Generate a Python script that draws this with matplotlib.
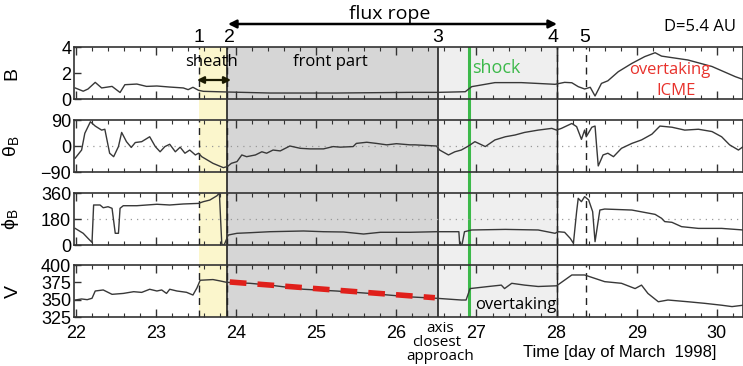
import numpy as np
import matplotlib.pyplot as plt
from matplotlib.ticker import MultipleLocator

# magnetic field magnitude B
b_day = [21.99, 22.09, 22.15, 22.24, 22.32, 22.45, 22.55, 22.61, 22.76, 22.88, 23.01, 23.17,
         23.34, 23.40, 23.46, 23.53, 23.59, 23.88, 24.42, 25.25, 26.17, 26.52, 26.86, 26.94,
         27.23, 27.56, 27.98, 28.10, 28.19, 28.27, 28.35, 28.42, 28.48, 28.56, 28.64, 28.77,
         28.94, 29.10, 29.23, 29.31, 29.64, 29.94, 30.23, 30.33]
b_val = [0.85, 0.6, 0.77, 1.28, 0.85, 0.97, 0.5, 1.1, 1.15, 0.97, 1.0, 0.92,
         0.85, 0.72, 0.9, 0.67, 0.59, 0.54, 0.46, 0.46, 0.51, 0.51, 0.56, 0.95,
         1.26, 1.26, 1.13, 1.28, 1.25, 0.95, 0.77, 0.9, 0.23, 1.2, 1.4, 2.1,
         2.74, 3.26, 3.56, 3.3, 3.0, 2.5, 1.72, 1.5]

# theta_B
th_day = [21.99, 22.07, 22.11, 22.18, 22.24, 22.32, 22.36, 22.42, 22.47, 22.53, 22.57, 22.63,
          22.69, 22.74, 22.82, 22.92, 22.99, 23.05, 23.11, 23.17, 23.24, 23.30, 23.36, 23.42,
          23.49, 23.53, 23.57, 23.71, 23.84, 23.89, 23.94, 24.01, 24.07, 24.13, 24.24, 24.32,
          24.38, 24.46, 24.55, 24.67, 24.80, 24.92, 25.09, 25.21, 25.30, 25.46, 25.50, 25.63,
          25.75, 25.88, 26.00, 26.17, 26.23, 26.50, 26.54, 26.65, 26.73, 26.81, 26.90, 26.98,
          27.11, 27.23, 27.36, 27.48, 27.60, 27.77, 27.94, 28.00, 28.06, 28.19, 28.25, 28.29,
          28.31, 28.35, 28.37, 28.44, 28.48, 28.50, 28.52, 28.58, 28.64, 28.71, 28.81, 28.94,
          29.06, 29.19, 29.29, 29.44, 29.60, 29.77, 29.94, 30.06, 30.16, 30.27, 30.33]
th_val = [-42, -14, 44, 84, 69, 55, 58, -25, -37, -2, 47, 15,
          -5, 12, 15, 32, -2, -20, -2, 6, -20, -4, -25, -14,
          -31, -25, -37, -60, -75, -71, -60, -54, -31, -37, -31, -20,
          -25, -14, -17, 0, -8, -10, -10, -2, -4, -2, 9, 13,
          9, 4, 8, 4, 4, 0, -14, -31, -20, -14, 0, 15,
          -2, 21, 32, 38, 47, 55, 61, 55, 61, 78, 67, 38,
          23, 55, 32, 65, 69, -2, -69, -31, -25, -37, -8, 9,
          21, 41, 69, 65, 55, 58, 50, 32, 4, -14, -2]

# phi_B
ph_day = [21.99, 22.09, 22.15, 22.20, 22.22, 22.30, 22.34, 22.40, 22.45, 22.49, 22.53, 22.55,
          22.59, 22.76, 23.01, 23.17, 23.34, 23.53, 23.59, 23.67, 23.76, 23.79, 23.82, 23.85,
          23.90, 24.01, 24.17, 24.42, 24.84, 25.09, 25.34, 25.59, 25.80, 26.17, 26.50, 26.78,
          26.79, 26.82, 26.85, 26.94, 27.36, 27.77, 27.98, 28.02, 28.10, 28.17, 28.21, 28.25,
          28.27, 28.31, 28.35, 28.40, 28.45, 28.48, 28.54, 28.60, 28.94, 29.23, 29.31, 29.35,
          29.44, 29.56, 29.77, 30.06, 30.33]
ph_val = [115, 81, 46, 18, 277, 277, 258, 265, 254, 81, 81, 254,
          272, 272, 282, 277, 284, 288, 300, 311, 341, 360, 5, 0,
          69, 81, 85, 92, 97, 92, 90, 76, 88, 88, 92, 92,
          5, 5, 92, 104, 108, 104, 81, 92, 88, 46, 12, 231,
          323, 300, 335, 312, 231, 23, 242, 249, 242, 212, 185, 162,
          157, 127, 115, 115, 104]

# solar wind speed V
v_day = [21.99, 22.07, 22.14, 22.20, 22.24, 22.34, 22.45, 22.59, 22.72, 22.82, 22.92, 23.01,
         23.07, 23.13, 23.17, 23.26, 23.38, 23.46, 23.51, 23.55, 23.71, 23.80, 23.88, 24.17,
         24.42, 24.84, 25.25, 25.67, 26.17, 26.50, 26.81, 26.87, 26.92, 27.15, 27.31, 27.35,
         27.44, 27.60, 27.77, 28.00, 28.19, 28.35, 28.60, 28.81, 28.98, 29.06, 29.14, 29.27,
         29.39, 29.64, 29.85, 30.06, 30.19, 30.33]
v_val = [349.5, 351, 350, 352, 362.5, 364, 357.7, 359, 361.5, 360.5, 365, 362.5,
         364, 359, 365, 362.5, 360.6, 356.7, 367, 378, 379, 377, 375, 373.6,
         371, 365, 362.5, 359, 354, 352, 349.5, 349.5, 366, 369, 371, 366,
         373.6, 371, 369, 370, 385.6, 385.6, 376, 373.6, 366, 371, 359, 347,
         349.5, 347, 344.7, 342, 340, 342]

# linear fit over the front part
fit_day = [23.92, 26.48]
fit_val = [375.5, 352.8]

# boundaries (days)
t1, t2, t3, t_shock, t4, t5 = 23.54, 23.89, 26.52, 26.91, 28.00, 28.37

W, H = 743, 366
fig = plt.figure(figsize=(W / 100, H / 100), dpi=100)
plt.rcParams['font.family'] = 'Liberation Sans'
plt.rcParams['mathtext.default'] = 'regular'
ann_font = 'Open Sans'

x_left, x_right = 74, 743
xlim = (22 - 2 / 80.1, 22 + (x_right - 76) / 80.1)
rows = [(47, 99), (120, 172), (193, 245), (265, 317)]


def frac_rect(top, bot):
    return [x_left / W, 1 - bot / H, (x_right - x_left) / W, (bot - top) / H]


# background for the shaded intervals spanning all panels
bg = fig.add_axes(frac_rect(rows[0][0], rows[-1][1]), zorder=0)
bg.set_xlim(xlim)
bg.set_ylim(0, 1)
bg.axis('off')
bg.axvspan(t1, t2, color='#fbf6cc', lw=0)
bg.axvspan(t2, t3, color='#d6d6d6', lw=0)
bg.axvspan(t3, t4, color='#efefef', lw=0)
bg.axvline(t2, color='#222222', lw=1.2)
bg.axvline(t3, color='#222222', lw=1.2)
bg.axvline(t4, color='#222222', lw=1.0)
bg.axvline(t_shock, color='#3cb94a', lw=2.2)

panels = [
    (b_day, b_val, (0, 4), [0, 2, 4], 'B', None),
    (th_day, th_val, (-90, 90), [-90, 0, 90], r'$\theta_B$', 0),
    (ph_day, ph_val, (0, 360), [0, 180, 360], r'$\phi_B$', 180),
    (v_day, v_val, (325, 400), [325, 350, 375, 400], 'V', None),
]

axes = []
for (top, bot), (xd, yd, ylim, yt, lab, ref) in zip(rows, panels):
    ax = fig.add_axes(frac_rect(top, bot), zorder=1)
    ax.patch.set_alpha(0)
    ax.plot(xd, yd, color='#383838', lw=1.0, zorder=3)
    if ref is not None:
        ax.axhline(ref, color='#999999', lw=0.9, ls=(0, (1, 4)), zorder=1)
    for t in (t1, t2, t4, t5):
        ax.axvline(t, color='#222222', lw=1.0, ls=(0, (5, 4)), zorder=2)
    ax.set_xlim(xlim)
    ax.set_ylim(ylim)
    ax.set_yticks(yt)
    ax.xaxis.set_major_locator(MultipleLocator(1))
    ax.xaxis.set_minor_locator(MultipleLocator(0.2))
    ax.tick_params(which='both', direction='in', top=True, bottom=True,
                   left=True, right=False, color='#333333', labelsize=13)
    ax.tick_params(which='major', length=6, width=1.0)
    ax.tick_params(which='minor', length=3, width=0.8)
    ax.tick_params(axis='y', which='major', length=5, pad=2)
    for s in ax.spines.values():
        s.set_color('#333333')
        s.set_linewidth(1.2)
    ax.set_ylabel(lab, fontsize=14)
    axes.append(ax)

for ax in axes[:-1]:
    ax.set_xticklabels([])
axes[-1].set_xticks(range(22, 31))
axes[-1].tick_params(axis='x', pad=6)
for ax, x in zip(axes, [0.028, 0.028, 0.028, 0.03]):
    ax.yaxis.set_label_coords(-(x_left / W - x) / ((x_right - x_left) / W), 0.5)

axes[-1].plot(fit_day, fit_val, color='#e0201b', lw=4, ls=(0, (3, 2)), zorder=4)


def ftext(px, py, s, **kw):
    fig.text(px / W, 1 - py / H, s, **kw)


def farrow(x0, x1, py, **kw):
    fig.add_artist(plt.Annotation('', xy=(x0 / W, 1 - py / H), xytext=(x1 / W, 1 - py / H),
                                  xycoords='figure fraction', textcoords='figure fraction',
                                  arrowprops=dict(arrowstyle='<|-|>', shrinkA=0, shrinkB=0, **kw)))


ftext(390, 14, 'flux rope', ha='center', va='center', fontsize=14, family=ann_font)
farrow(228, 557, 24, color='black', lw=1.8, mutation_scale=12)
ftext(700, 27, 'D=5.4 AU', ha='center', va='center', fontsize=12, family=ann_font)
for px, s in [(199, '1'), (229, '2'), (438, '3'), (553, '4'), (585, '5')]:
    ftext(px, 37, s, ha='center', va='center', fontsize=14)

ftext(211, 62, 'sheath', ha='center', va='center', fontsize=12, family=ann_font)
farrow(197, 231, 80, color='#1a1a00', lw=1.6, mutation_scale=10)
ftext(330, 62, 'front part', ha='center', va='center', fontsize=12, family=ann_font)
ftext(472, 68, 'shock', ha='left', va='center', fontsize=13, color='#3cb94a', family=ann_font)
ftext(670, 70, 'overtaking', ha='center', va='center', fontsize=12, color='#e8322c', family=ann_font)
ftext(676, 91, 'ICME', ha='center', va='center', fontsize=12, color='#e8322c', family=ann_font)
ftext(475, 305, 'overtaking', ha='left', va='center', fontsize=12, family=ann_font)
ftext(440, 328, 'axis', ha='center', va='center', fontsize=11, family=ann_font)
ftext(437, 342, 'closest', ha='center', va='center', fontsize=11, family=ann_font)
ftext(440, 356, 'approach', ha='center', va='center', fontsize=11, family=ann_font)
ftext(620, 352, 'Time [day of March  1998]', ha='center', va='center', fontsize=12)

fig.savefig('out.png', dpi=100)
